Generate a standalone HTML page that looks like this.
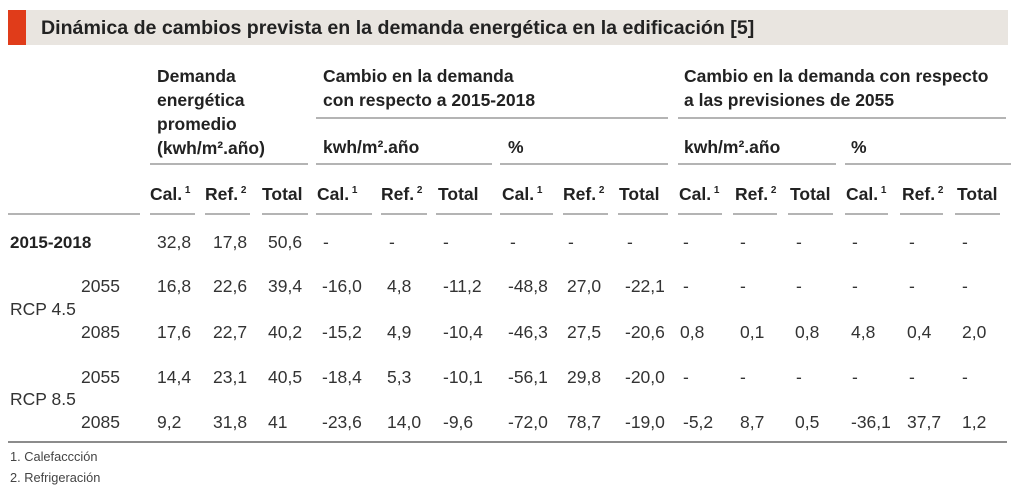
<!DOCTYPE html>
<html><head><meta charset="utf-8"><style>
html,body{margin:0;padding:0;background:#fff;}
svg{display:block;font-family:"Liberation Sans",sans-serif;}
.h{font-size:17.5px;fill:#222;font-weight:bold}
.d{font-size:17.5px;fill:#333}
.f{font-size:12.8px;fill:#444}
</style></head><body>
<svg width="1024" height="504" viewBox="0 0 1024 504">
<rect x="8" y="10" width="1000" height="35" fill="#e9e5e0"/>
<rect x="8" y="10" width="18" height="35" fill="#e03c1a"/>
<text x="41" y="34" style="font-size:19.6px;fill:#222;font-weight:bold">Dinámica de cambios prevista en la demanda energética en la edificación [5]</text>
<g class="h">
<text x="157" y="82">Demanda</text>
<text x="157" y="106">energética</text>
<text x="157" y="130">promedio</text>
<text x="157" y="154">(kwh/m².año)</text>
<text x="323" y="82">Cambio en la demanda</text>
<text x="323" y="106">con respecto a 2015-2018</text>
<text x="684" y="82">Cambio en la demanda con respecto</text>
<text x="684" y="106">a las previsiones de 2055</text>
<text x="323" y="153">kwh/m².año</text>
<text x="508" y="153">%</text>
<text x="684" y="153">kwh/m².año</text>
<text x="851" y="153">%</text>
</g>
<g stroke="#888" stroke-width="1.2">
<line x1="316" y1="118" x2="668" y2="118"/>
<line x1="678" y1="118" x2="1006" y2="118"/>
<line x1="150" y1="164" x2="308" y2="164"/>
<line x1="316" y1="164" x2="492" y2="164"/>
<line x1="500" y1="164" x2="668" y2="164"/>
<line x1="678" y1="164" x2="836" y2="164"/>
<line x1="845" y1="164" x2="1011" y2="164"/>
<line x1="8" y1="214" x2="140" y2="214"/>
<line x1="150" y1="214" x2="195" y2="214"/>
<line x1="205" y1="214" x2="250" y2="214"/>
<line x1="262" y1="214" x2="308" y2="214"/>
<line x1="316" y1="214" x2="372" y2="214"/>
<line x1="381" y1="214" x2="427" y2="214"/>
<line x1="436" y1="214" x2="492" y2="214"/>
<line x1="500" y1="214" x2="553" y2="214"/>
<line x1="563" y1="214" x2="608" y2="214"/>
<line x1="618" y1="214" x2="668" y2="214"/>
<line x1="678" y1="214" x2="722" y2="214"/>
<line x1="733" y1="214" x2="777" y2="214"/>
<line x1="788" y1="214" x2="833" y2="214"/>
<line x1="845" y1="214" x2="888" y2="214"/>
<line x1="900" y1="214" x2="943" y2="214"/>
<line x1="955" y1="214" x2="1000" y2="214"/>
</g>
<line x1="8" y1="442" x2="1007" y2="442" stroke="#666" stroke-width="1.5"/>
<g class="h">
<text x="150" y="200">Cal.<tspan dy="-7" font-size="10"> 1</tspan></text>
<text x="205" y="200">Ref.<tspan dy="-7" font-size="10"> 2</tspan></text>
<text x="262" y="200">Total</text>
<text x="317" y="200">Cal.<tspan dy="-7" font-size="10"> 1</tspan></text>
<text x="381" y="200">Ref.<tspan dy="-7" font-size="10"> 2</tspan></text>
<text x="438" y="200">Total</text>
<text x="502" y="200">Cal.<tspan dy="-7" font-size="10"> 1</tspan></text>
<text x="563" y="200">Ref.<tspan dy="-7" font-size="10"> 2</tspan></text>
<text x="619" y="200">Total</text>
<text x="679" y="200">Cal.<tspan dy="-7" font-size="10"> 1</tspan></text>
<text x="735" y="200">Ref.<tspan dy="-7" font-size="10"> 2</tspan></text>
<text x="790" y="200">Total</text>
<text x="846" y="200">Cal.<tspan dy="-7" font-size="10"> 1</tspan></text>
<text x="902" y="200">Ref.<tspan dy="-7" font-size="10"> 2</tspan></text>
<text x="957" y="200">Total</text>
</g>
<text x="10" y="248" style="font-size:17px;fill:#222;font-weight:bold">2015-2018</text>
<g class="d">
<text x="81" y="292">2055</text>
<text x="10" y="315">RCP 4.5</text>
<text x="81" y="338">2085</text>
<text x="81" y="383">2055</text>
<text x="10" y="405">RCP 8.5</text>
<text x="81" y="428">2085</text>
</g>
<g class="d">
<text y="248"><tspan x="157">32,8</tspan><tspan x="213">17,8</tspan><tspan x="268">50,6</tspan><tspan x="323">-</tspan><tspan x="389">-</tspan><tspan x="443">-</tspan><tspan x="510">-</tspan><tspan x="568">-</tspan><tspan x="627">-</tspan><tspan x="683">-</tspan><tspan x="740">-</tspan><tspan x="796">-</tspan><tspan x="852">-</tspan><tspan x="909">-</tspan><tspan x="962">-</tspan></text>
<text y="292"><tspan x="157">16,8</tspan><tspan x="213">22,6</tspan><tspan x="268">39,4</tspan><tspan x="322">-16,0</tspan><tspan x="387">4,8</tspan><tspan x="443">-11,2</tspan><tspan x="508">-48,8</tspan><tspan x="567">27,0</tspan><tspan x="625">-22,1</tspan><tspan x="683">-</tspan><tspan x="740">-</tspan><tspan x="796">-</tspan><tspan x="852">-</tspan><tspan x="909">-</tspan><tspan x="962">-</tspan></text>
<text y="338"><tspan x="157">17,6</tspan><tspan x="213">22,7</tspan><tspan x="268">40,2</tspan><tspan x="322">-15,2</tspan><tspan x="387">4,9</tspan><tspan x="443">-10,4</tspan><tspan x="508">-46,3</tspan><tspan x="567">27,5</tspan><tspan x="625">-20,6</tspan><tspan x="680">0,8</tspan><tspan x="740">0,1</tspan><tspan x="795">0,8</tspan><tspan x="851">4,8</tspan><tspan x="907">0,4</tspan><tspan x="962">2,0</tspan></text>
<text y="383"><tspan x="157">14,4</tspan><tspan x="213">23,1</tspan><tspan x="268">40,5</tspan><tspan x="322">-18,4</tspan><tspan x="387">5,3</tspan><tspan x="443">-10,1</tspan><tspan x="508">-56,1</tspan><tspan x="567">29,8</tspan><tspan x="625">-20,0</tspan><tspan x="683">-</tspan><tspan x="740">-</tspan><tspan x="796">-</tspan><tspan x="852">-</tspan><tspan x="909">-</tspan><tspan x="962">-</tspan></text>
<text y="428"><tspan x="157">9,2</tspan><tspan x="213">31,8</tspan><tspan x="268">41</tspan><tspan x="322">-23,6</tspan><tspan x="387">14,0</tspan><tspan x="443">-9,6</tspan><tspan x="508">-72,0</tspan><tspan x="567">78,7</tspan><tspan x="625">-19,0</tspan><tspan x="683">-5,2</tspan><tspan x="740">8,7</tspan><tspan x="795">0,5</tspan><tspan x="851">-36,1</tspan><tspan x="907">37,7</tspan><tspan x="962">1,2</tspan></text>
</g>
<text class="f" x="10" y="461">1. Calefaccción</text>
<text class="f" x="10" y="482">2. Refrigeración</text>
</svg>
</body></html>
